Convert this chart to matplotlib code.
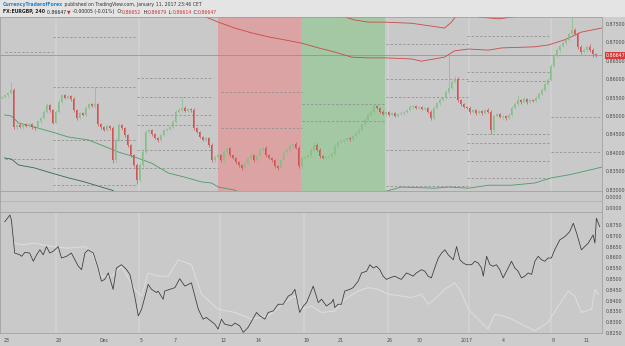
import matplotlib
matplotlib.use('Agg')
import matplotlib.pyplot as plt
import numpy as np

W, H = 625, 346

# 4h closes (open = previous close), EURGBP
closes = [
    0.8552, 0.8557, 0.8562, 0.8571, 0.8470, 0.8476, 0.8470, 0.8478, 0.8473, 0.8478,
    0.8470, 0.8467, 0.8486, 0.8494, 0.8511, 0.8530, 0.8516, 0.8481, 0.8511, 0.8538,
    0.8557, 0.8549, 0.8554, 0.8546, 0.8516, 0.8494, 0.8508, 0.8503, 0.8522, 0.8532,
    0.8527, 0.8532, 0.8478, 0.8470, 0.8462, 0.8473, 0.8467, 0.8380, 0.8435, 0.8476,
    0.8467, 0.8448, 0.8421, 0.8394, 0.8367, 0.8326, 0.8367, 0.8402, 0.8457, 0.8462,
    0.8451, 0.8440, 0.8435, 0.8448, 0.8462, 0.8465, 0.8470, 0.8484, 0.8511, 0.8516,
    0.8522, 0.8514, 0.8519, 0.8516, 0.8467, 0.8457, 0.8443, 0.8435, 0.8440, 0.8421,
    0.8380, 0.8389, 0.8394, 0.8380, 0.8402, 0.8413, 0.8394, 0.8386, 0.8375, 0.8367,
    0.8359, 0.8372, 0.8386, 0.8394, 0.8380, 0.8391, 0.8408, 0.8413, 0.8394, 0.8386,
    0.8380, 0.8364, 0.8359, 0.8380, 0.8402, 0.8408, 0.8418, 0.8424, 0.8413, 0.8364,
    0.8386, 0.8389, 0.8394, 0.8408, 0.8421, 0.8408, 0.8391, 0.8386, 0.8389, 0.8391,
    0.8397, 0.8418, 0.8429, 0.8432, 0.8435, 0.8440, 0.8437, 0.8446, 0.8454, 0.8462,
    0.8478, 0.8489, 0.8503, 0.8511, 0.8527, 0.8522, 0.8511, 0.8505, 0.8511, 0.8503,
    0.8508, 0.8500, 0.8505, 0.8508, 0.8511, 0.8516, 0.8524, 0.8527, 0.8522, 0.8524,
    0.8519, 0.8522, 0.8511, 0.8494, 0.8522, 0.8535, 0.8543, 0.8549, 0.8565, 0.8576,
    0.8592, 0.8601, 0.8543, 0.8532, 0.8524, 0.8522, 0.8511, 0.8516, 0.8508, 0.8514,
    0.8508, 0.8516, 0.8511, 0.8462, 0.8500, 0.8505, 0.8497, 0.8500, 0.8494, 0.8503,
    0.8522, 0.8532, 0.8543, 0.8538, 0.8546, 0.8538, 0.8543, 0.8541, 0.8549, 0.8560,
    0.8571, 0.8587, 0.8598, 0.8636, 0.8663, 0.8679, 0.8690, 0.8698, 0.8707, 0.8723,
    0.8734, 0.8723, 0.8688, 0.8674, 0.8679, 0.8688, 0.8679, 0.8668, 0.8665]
first_open = 0.8548
# wick lengths beyond the body, in pips
wick_hi = [
    3, 4, 3, 21, 6, 3, 4, 3, 4, 3,
    3, 4, 4, 3, 5, 6, 4, 3, 5, 6,
    4, 3, 4, 3, 5, 4, 3, 4, 5, 4,
    4, 47, 4, 3, 3, 4, 3, 6, 5, 4,
    3, 4, 3, 3, 4, 5, 6, 5, 6, 4,
    3, 4, 3, 4, 3, 3, 4, 5, 4, 5,
    30, 4, 3, 4, 5, 4, 3, 3, 4, 3,
    5, 4, 6, 3, 5, 4, 3, 4, 3, 3,
    4, 5, 4, 6, 3, 4, 6, 4, 5, 3,
    3, 4, 3, 4, 5, 4, 5, 4, 6, 5,
    4, 3, 4, 5, 8, 5, 4, 3, 3, 4,
    4, 5, 3, 4, 3, 4, 4, 3, 4, 5,
    4, 5, 4, 6, 5, 4, 3, 4, 3, 3,
    4, 3, 3, 4, 3, 4, 5, 4, 3, 4,
    4, 3, 3, 5, 4, 4, 5, 4, 6, 90,
    6, 8, 5, 4, 3, 3, 4, 3, 4, 3,
    3, 4, 5, 4, 4, 3, 4, 3, 3, 4,
    5, 5, 15, 4, 5, 4, 4, 3, 5, 4,
    5, 5, 6, 6, 5, 5, 4, 5, 4, 5,
    40, 5, 6, 5, 6, 5, 7, 5, 4]
wick_lo = [
    3, 3, 4, 3, 5, 4, 3, 4, 3, 4,
    4, 5, 3, 4, 3, 4, 5, 4, 3, 4,
    3, 4, 3, 4, 5, 4, 3, 4, 3, 4,
    3, 4, 5, 4, 3, 4, 4, 8, 5, 3,
    4, 4, 5, 4, 5, 10, 6, 5, 4, 3,
    4, 3, 5, 4, 3, 4, 3, 3, 4, 3,
    4, 3, 4, 4, 5, 4, 3, 4, 3, 5,
    6, 4, 3, 6, 4, 3, 5, 4, 4, 5,
    6, 4, 3, 4, 5, 4, 3, 4, 5, 4,
    4, 6, 5, 4, 3, 4, 3, 4, 3, 6,
    5, 4, 3, 4, 3, 4, 5, 4, 3, 4,
    4, 3, 4, 3, 4, 3, 4, 4, 3, 4,
    3, 4, 3, 4, 5, 4, 4, 3, 4, 3,
    4, 4, 3, 3, 4, 3, 3, 4, 3, 4,
    3, 4, 4, 6, 5, 3, 4, 3, 4, 5,
    4, 3, 6, 4, 3, 4, 5, 3, 4, 3,
    4, 3, 4, 10, 5, 4, 3, 4, 4, 3,
    4, 3, 4, 4, 3, 4, 3, 4, 3, 4,
    4, 3, 4, 4, 3, 4, 4, 3, 4, 4,
    4, 4, 5, 6, 4, 5, 6, 8, 6]

# envelope curves (bar, price)
red_a_x = [65, 66.7, 72.3, 77.7, 83.3, 89, 94.3, 100, 105.7, 111, 116.7, 122.3, 127.7, 136.7, 140,
           147.7, 151, 155.7, 162.3, 166.7, 177.7, 182.3, 187.7, 193.3, 200]
red_a_y = [0.8780, 0.8774, 0.8755, 0.8739, 0.8726, 0.8715, 0.8707, 0.8698, 0.8685, 0.8674, 0.8660,
           0.8658, 0.8658, 0.8655, 0.8649, 0.8660, 0.8677, 0.8682, 0.8679, 0.8685, 0.8688, 0.8693,
           0.8707, 0.8728, 0.8739]
red_b_x = [110, 112.3, 117.7, 122.3, 127.7, 136.7, 147.7, 150, 151.7, 155.3, 159, 165.7, 173.3, 176.7]
red_b_y = [0.8785, 0.8774, 0.8761, 0.8755, 0.8755, 0.8752, 0.8739, 0.8755, 0.8774, 0.8790, 0.8769,
           0.8764, 0.8772, 0.8790]
green_a_x = [1, 3.3, 5.7, 11, 16.7, 22.3, 29, 33.3, 39, 44.3, 50, 55.7, 61, 66.7, 70, 72.3, 77.7, 80]
green_a_y = [0.8503, 0.8500, 0.8481, 0.8470, 0.8457, 0.8443, 0.8435, 0.8421, 0.8402, 0.8389, 0.8372,
             0.8345, 0.8334, 0.8321, 0.8318, 0.8307, 0.8299, 0.8290]
green_b_x = [1, 3.3, 5.7, 11, 16.7, 22.3, 27.7, 33.3, 36.7, 39]
green_b_y = [0.8386, 0.8383, 0.8367, 0.8359, 0.8345, 0.8332, 0.8321, 0.8307, 0.8299, 0.8290]
green_c_x = [125, 128.3, 133.3, 144.3, 149, 155.7, 162.3, 170, 177.7, 183.3, 189, 193.3, 200]
green_c_y = [0.8292, 0.8296, 0.8307, 0.8304, 0.8307, 0.8304, 0.8312, 0.8312, 0.8318, 0.8332, 0.8340,
             0.8348, 0.8361]

# weekly pivot levels: price, first bar, last bar
piv_level = [0.8715, 0.8674, 0.8579, 0.8603, 0.8552, 0.8503, 0.8476, 0.8435, 0.8408, 0.8383,
             0.8359, 0.8313, 0.8565, 0.8467, 0.8533, 0.8486, 0.8696, 0.8601, 0.8552, 0.8408,
             0.8310, 0.8717, 0.8620, 0.8595, 0.8451, 0.8427, 0.8378, 0.8332, 0.8497, 0.8402]
piv_start = [17, 1, 17, 45, 45, 45, 45, 17, 45, 1, 17, 17, 73, 73, 100, 100, 128, 128, 128, 128,
             128, 155, 155, 155, 155, 155, 155, 155, 183, 183]
piv_end = [45, 17, 45, 70, 70, 70, 70, 45, 70, 17, 72, 45, 100, 100, 128, 128, 156, 156, 156, 156,
           156, 183, 183, 183, 183, 183, 183, 183, 200, 200]

week_lines = [18.3, 45.7, 72.7, 100.7, 128.7, 155.7, 183.3]
red_zone = (72.3, 99.7)
green_zone = (99.7, 127.7)
last_price = 0.86647

# lower panel: comparison lines (bar, value)
dark_x = [1.1, 2.8, 3.3, 4.4, 6.1, 6.7, 7.8, 9.4, 10.6, 11.7, 12.8, 13.9, 15, 16.1, 17.2, 18.9, 20,
          21.7, 23.3, 25.6, 26.7, 27.8, 28.9, 30.6, 32.2, 33.3, 34.4, 35.6, 37.2, 38.3, 40, 41.7,
          42.8, 44.4, 45.6, 46.7, 48.9, 50, 51.7, 52.2, 53.9, 54.4, 56.1, 57.8, 59.4, 61.1, 63.3,
          65.6, 67.2, 68.3, 71.1, 72.2, 73.3, 74.4, 76.7, 77.8, 79.4, 80.6, 82.2, 85, 86.1, 87.8,
          88.9, 90.6, 92.2, 93.9, 95.6, 96.7, 97.8, 99.4, 100.6, 101.7, 103.9, 105.6, 106.7,
          108.3, 110, 110.6, 111.1, 112.2, 113.3, 114.4, 116.1, 117.2, 118.9, 120, 121.7, 122.8,
          123.9, 125, 126.1, 127.2, 128.3, 129.4, 131.1, 132.2, 133.3, 135, 136.1, 137.2, 138.3,
          140, 141.1, 142.2, 143.3, 144.4, 145.6, 146.7, 147.8, 148.9, 150.6, 151.7, 152.8, 153.9,
          155, 156.7, 157.8, 158.9, 160, 160.6, 161.7, 162.8, 163.9, 165, 166.1, 167.2, 168.9,
          170, 171.1, 172.2, 173.3, 174.4, 175.6, 176.7, 177.8, 178.9, 180, 181.1, 182.2, 183.3,
          184.4, 186.1, 187.8, 189.4, 190.6, 191.7, 193.3, 195.6, 197.2, 197.8, 198.3, 199.4]
dark_v = [0.8765, 0.8796, 0.8773, 0.8620, 0.8612, 0.8605, 0.8623, 0.8620, 0.8582, 0.8612, 0.8635,
          0.8612, 0.8650, 0.8620, 0.8628, 0.8650, 0.8597, 0.8605, 0.8620, 0.8559, 0.8543, 0.8620,
          0.8635, 0.8620, 0.8551, 0.8490, 0.8498, 0.8528, 0.8452, 0.8551, 0.8566, 0.8543, 0.8521,
          0.8421, 0.8329, 0.8360, 0.8475, 0.8452, 0.8437, 0.8444, 0.8406, 0.8444, 0.8452, 0.8460,
          0.8501, 0.8467, 0.8482, 0.8360, 0.8314, 0.8322, 0.8291, 0.8268, 0.8314, 0.8291, 0.8283,
          0.8296, 0.8283, 0.8253, 0.8276, 0.8345, 0.8329, 0.8314, 0.8345, 0.8352, 0.8383, 0.8383,
          0.8421, 0.8429, 0.8452, 0.8345, 0.8375, 0.8391, 0.8467, 0.8391, 0.8406, 0.8375, 0.8391,
          0.8406, 0.8368, 0.8383, 0.8383, 0.8444, 0.8452, 0.8460, 0.8490, 0.8528, 0.8536, 0.8566,
          0.8551, 0.8559, 0.8543, 0.8513, 0.8498, 0.8505, 0.8513, 0.8505, 0.8498, 0.8528, 0.8521,
          0.8513, 0.8528, 0.8543, 0.8536, 0.8513, 0.8505, 0.8551, 0.8597, 0.8620, 0.8635, 0.8612,
          0.8589, 0.8650, 0.8589, 0.8574, 0.8566, 0.8566, 0.8582, 0.8574, 0.8551, 0.8513, 0.8605,
          0.8566, 0.8559, 0.8566, 0.8543, 0.8505, 0.8551, 0.8582, 0.8551, 0.8536, 0.8505, 0.8513,
          0.8528, 0.8521, 0.8582, 0.8605, 0.8589, 0.8582, 0.8597, 0.8597, 0.8635, 0.8681, 0.8696,
          0.8719, 0.8758, 0.8712, 0.8635, 0.8666, 0.8704, 0.8666, 0.8781, 0.8742]
light_x = [4.4, 6.7, 11.1, 16.7, 22.2, 27.8, 30, 33.3, 36.7, 40, 44.4, 46.7, 48.9, 52.2, 55.6,
           58.9, 63.3, 66.7, 72.2, 77.8, 83.3, 88.9, 94.4, 97.8, 100, 103.3, 106.7, 111.1, 114.4,
           118.9, 122.2, 125.6, 128.9, 133.3, 136.7, 140, 142.2, 144.4, 147.8, 151.1, 153.3,
           155.6, 158.9, 162.2, 164.4, 168.9, 172.2, 177.8, 182.2, 185.6, 188.9, 191.1, 193.3,
           196.7, 197.8, 198.9]
light_v = [0.8666, 0.8658, 0.8666, 0.8650, 0.8643, 0.8650, 0.8628, 0.8513, 0.8513, 0.8559, 0.8452,
           0.8421, 0.8528, 0.8513, 0.8513, 0.8589, 0.8566, 0.8429, 0.8360, 0.8345, 0.8314, 0.8329,
           0.8391, 0.8421, 0.8360, 0.8375, 0.8345, 0.8352, 0.8406, 0.8444, 0.8460, 0.8452, 0.8429,
           0.8421, 0.8414, 0.8429, 0.8383, 0.8406, 0.8452, 0.8482, 0.8437, 0.8360, 0.8314, 0.8268,
           0.8337, 0.8322, 0.8299, 0.8260, 0.8299, 0.8375, 0.8444, 0.8421, 0.8345, 0.8360, 0.8452,
           0.8429]

date_labels = ['23', '28', 'Dec', '5', '7', '12', '14', '19', '21', '26', '30', '2017', '4', '9', '11']
date_bars = [1.7, 19, 34.3, 46.7, 57.7, 74, 85.7, 101.7, 113, 129.3, 139.3, 155, 167.3, 184, 195]

main_ticks = [0.875, 0.870, 0.865, 0.860, 0.855, 0.850, 0.845, 0.840, 0.835, 0.830]
low_ticks = [0.875, 0.870, 0.865, 0.860, 0.855, 0.850, 0.845, 0.840, 0.835, 0.830, 0.825]

# marks in the indicator strip (bar numbers)
row_grey = [0, 1, 2, 3, 4, 19, 20, 24, 25, 26, 27, 28, 29, 45, 46, 47, 58, 59, 62, 63, 64, 65, 66,
            100, 101, 104, 107, 110, 111, 113, 116, 121, 122, 123, 124, 140, 141, 142, 143, 165,
            167, 170, 175, 176, 177, 184, 186, 190, 191]
row_dark = [4, 5, 6, 7, 8, 9, 10, 11, 12, 37, 38, 45, 46, 47, 72, 73, 74, 75, 76, 77, 101, 104, 106,
            112, 113, 115, 116, 117, 118, 119, 133, 134, 150, 151, 164, 166, 174, 180, 182, 186,
            187, 188, 189, 190, 192, 194, 196]

BG = '#c9c9c9'
RED = '#cc5656'
GREEN = '#86bf86'
TXT = '#4a4a4a'
FS = 3.4

fig = plt.figure(figsize=(W / 100, H / 100), dpi=100, facecolor='#cdcdcd')


def box(x0, y0, x1, y1):
    return fig.add_axes([x0 / W, 1 - y1 / H, (x1 - x0) / W, (y1 - y0) / H])


XL = (-0.5, 602 / 3 - 0.5)

# ---- header
hx = box(0, 0, 625, 17)
hx.set_facecolor('#e4e4e4')
hx.set_xticks([])
hx.set_yticks([])
for s in hx.spines.values():
    s.set_visible(False)
hx.set_xlim(0, W)
hx.set_ylim(17, 0)
t = hx.text(3, 4.5, 'CurrencyTraderofForex', fontsize=3.3, color='#2f7fc0', va='center',
            fontweight='bold')
hx.annotate(' published on TradingView.com, January 11, 2017 23:46 CET', xy=(1, 0.5),
            xycoords=t, va='center', fontsize=3.3, color='#333333')
parts = [('FX:EURGBP, 240 ', '#222222', 'bold'), ('0.86647 ', '#222222', 'normal'),
         ('▼', '#c83232', 'normal'), (' -0.00005 (-0.01%)  O:', '#222222', 'normal'),
         ('0.86652', '#c83232', 'normal'), (' H:', '#222222', 'normal'),
         ('0.86679', '#c83232', 'normal'), (' L:', '#222222', 'normal'),
         ('0.86614', '#c83232', 'normal'), (' C:', '#222222', 'normal'),
         ('0.86647', '#c83232', 'normal')]
prev = hx.text(3, 12, parts[0][0], fontsize=3.3, color=parts[0][1], va='center',
               fontweight=parts[0][2])
for txt, col, fw in parts[1:]:
    prev = hx.annotate(txt, xy=(1, 0.5), xycoords=prev, va='center', fontsize=3.3, color=col,
                       fontweight=fw)

# ---- main price panel
ax = box(0, 17, 602, 191)
ax.set_facecolor(BG)
ax.set_xlim(*XL)
ax.set_ylim(0.82963, 0.87690)
for wx in week_lines:
    ax.axvline(wx, color='#d1d1d1', lw=1.4, zorder=0)
ax.axvspan(*red_zone, color='#dba3a3', lw=0, zorder=0.5)
ax.axvspan(*green_zone, color='#a3c8a3', lw=0, zorder=0.5)
for lv, a, b in zip(piv_level, piv_start, piv_end):
    ax.plot([a, b], [lv, lv], color='#8c8c8c', lw=0.55, ls=(0, (3, 2.5)), zorder=1)
ax.axhline(last_price, color='#d07070', lw=0.5, zorder=1)
ax.plot(red_a_x, red_a_y, color='#c84a4a', lw=0.6, zorder=2)
ax.plot(red_b_x, red_b_y, color='#c84a4a', lw=0.6, zorder=2)
ax.plot(green_a_x, green_a_y, color='#4e9a68', lw=0.6, zorder=2)
ax.plot(green_b_x, green_b_y, color='#2f6e48', lw=0.6, zorder=2)
ax.plot(green_c_x, green_c_y, color='#4e9a68', lw=0.6, zorder=2)

c = np.array(closes)
o = np.concatenate([[first_open], c[:-1]])
top = np.maximum(o, c)
bot = np.minimum(o, c)
hi = top + np.array(wick_hi) * 0.0001
lo = bot - np.array(wick_lo) * 0.0001
xs = np.arange(len(c))
cols = np.where(c >= o, GREEN, RED)
ax.vlines(xs, lo, hi, colors=cols, lw=0.5, zorder=3)
ax.bar(xs, np.maximum(top - bot, 0.00006), bottom=bot, width=0.62, color=cols, lw=0, zorder=4)

ax.yaxis.tick_right()
ax.set_yticks(main_ticks)
ax.set_yticklabels(['%.5f' % v for v in main_ticks])
ax.tick_params(axis='y', length=0, pad=3, labelsize=FS, labelcolor=TXT)
ax.set_xticks([])
for s in ax.spines.values():
    s.set_color('#9a9a9a')
    s.set_linewidth(0.5)
ax.annotate('%.5f' % last_price, xy=(1, last_price), xycoords=('axes fraction', 'data'),
            xytext=(3, 0), textcoords='offset points', va='center', ha='left', fontsize=FS,
            color='white', bbox=dict(boxstyle='square,pad=0.25', fc='#d83a3a', ec='none'))

# ---- indicator strip
ix = box(0, 191, 602, 212)
ix.set_facecolor(BG)
ix.set_xlim(*XL)
ix.set_ylim(21, 0)
ix.axhline(10, color='#a8a8a8', lw=0.4)
ix.scatter(row_grey, [2.5] * len(row_grey), s=0.25, marker='s', color='#8a8a8a', lw=0)
ix.scatter(row_dark, [6] * len(row_dark), s=0.35, marker='s', color='#555555', lw=0)
ix.scatter(xs, [12.5] * len(xs), s=0.3, marker='s', color='#d88888', lw=0)
ix.scatter(xs, [14.8] * len(xs), s=0.3, marker='s', color='#d06a6a', lw=0)
ix.scatter(xs, [17.3] * len(xs), s=0.3, marker='s', color='#8cbf8c', lw=0)
ix.scatter(xs, [19.8] * len(xs), s=0.3, marker='s', color='#7ab87a', lw=0)
ix.set_xticks([])
ix.yaxis.tick_right()
ix.set_yticks([6, 17])
ix.set_yticklabels(['0.0000', '0.0000'])
ix.tick_params(axis='y', length=0, pad=3, labelsize=FS, labelcolor=TXT)
for s in ix.spines.values():
    s.set_color('#9a9a9a')
    s.set_linewidth(0.5)

# ---- lower comparison panel
lx = box(0, 212, 602, 333)
lx.set_facecolor(BG)
lx.set_xlim(*XL)
lx.set_ylim(0.8255, 0.8810)
for wx in week_lines:
    lx.axvline(wx, color='#d1d1d1', lw=1.4, zorder=0)
lx.plot(light_x, light_v, color='#dedede', lw=0.7, zorder=2)
lx.plot(dark_x, dark_v, color='#383838', lw=0.55, zorder=3)
lx.yaxis.tick_right()
lx.set_yticks(low_ticks)
lx.set_yticklabels(['%.4f' % v for v in low_ticks])
lx.tick_params(axis='y', length=0, pad=3, labelsize=FS, labelcolor=TXT)
lx.set_xticks(date_bars)
lx.set_xticklabels(date_labels)
lx.tick_params(axis='x', length=0, pad=3.5, labelsize=FS, labelcolor=TXT)
for s in lx.spines.values():
    s.set_color('#9a9a9a')
    s.set_linewidth(0.5)

fig.savefig('out.png', dpi=100, facecolor=fig.get_facecolor())
